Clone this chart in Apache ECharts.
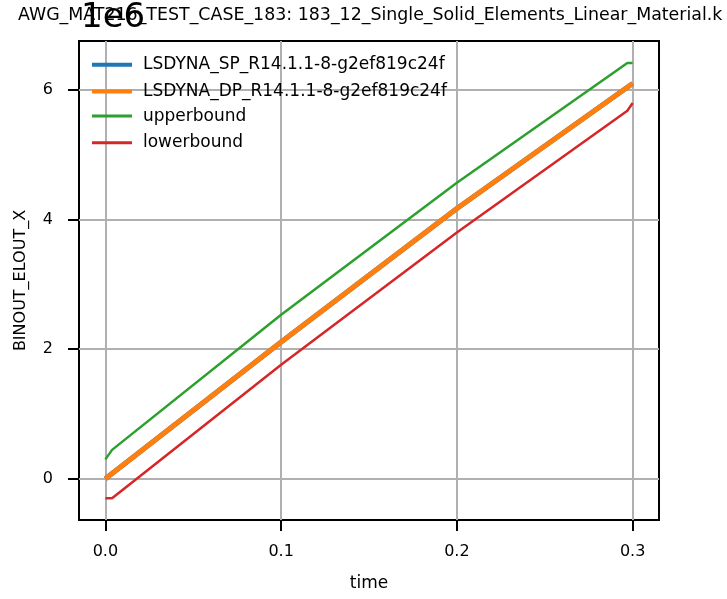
<!DOCTYPE html>
<html>
<head>
<meta charset="utf-8">
<script src="https://cdn.jsdelivr.net/npm/echarts@6/dist/echarts.min.js"></script>
<style>
html,body{margin:0;padding:0;background:#fff;}
#chart{width:727px;height:599px;}
</style>
</head>
<body>
<div id="chart"></div>
<script>
// ---- data ----
const titleText = 'AWG_MAT216_TEST_CASE_183: 183_12_Single_Solid_Elements_Linear_Material.k';
const xLabel = 'time';
const yLabel = 'BINOUT_ELOUT_X';
const seriesNames = ['LSDYNA_SP_R14.1.1-8-g2ef819c24f', 'LSDYNA_DP_R14.1.1-8-g2ef819c24f', 'upperbound', 'lowerbound'];
const xTicks = [0, 0.1, 0.2, 0.3];
const yTicks = [0, 2e6, 4e6, 6e6];
const mainTime = [0, 0.1, 0.2, 0.3];
const spValues = [0, 2.11e6, 4.17e6, 6.1e6];
const dpValues = [0, 2.11e6, 4.17e6, 6.1e6];
const upperTime = [0, 0.0038, 0.1, 0.2, 0.297, 0.3];
const upperValues = [0.3e6, 0.446e6, 2.53e6, 4.57e6, 6.415e6, 6.415e6];
const lowerTime = [0, 0.0038, 0.1, 0.2, 0.297, 0.3];
const lowerValues = [-0.3e6, -0.3e6, 1.76e6, 3.8e6, 5.68e6, 5.8e6];

const pair = (xs, ys) => xs.map((x, i) => [x, ys[i]]);
const FONT = 'DejaVu Sans';

const chart = echarts.init(document.getElementById('chart'), null, {renderer: 'canvas'});
chart.setOption({
  animation: false,
  backgroundColor: '#fff',
  textStyle: {fontFamily: FONT},
  grid: {left: 79, right: 68, top: 41, bottom: 79, show: true, borderColor: '#000', borderWidth: 2, backgroundColor: 'transparent'},
  graphic: [
    {type: 'text', left: 18, top: 7, z: 10, style: {text: titleText, font: '17.4px "DejaVu Sans"', fill: '#000'}},
    {type: 'text', left: 81, top: 1, z: 11, style: {text: '1e6', font: '34px "DejaVu Sans"', fill: '#000'}}
  ],
  legend: [
    {data: seriesNames.slice(0, 2), orient: 'vertical', left: 87, top: 51.2, icon: 'rect', itemWidth: 40, itemHeight: 4, itemGap: 9.7,
     textStyle: {fontFamily: FONT, fontSize: 17, color: '#000', lineHeight: 16, padding: [0, 0, 0, 6]}},
    {data: seriesNames.slice(2, 4), orient: 'vertical', left: 87, top: 102.6, icon: 'rect', itemWidth: 40, itemHeight: 3, itemGap: 9.7,
     textStyle: {fontFamily: FONT, fontSize: 17, color: '#000', lineHeight: 16, padding: [0, 0, 0, 6]}}
  ],
  xAxis: {
    type: 'value', min: -0.015, max: 0.315,
    name: xLabel, nameLocation: 'middle', nameGap: 55,
    nameTextStyle: {fontFamily: FONT, fontSize: 17, color: '#000'},
    axisLine: {show: false, onZero: false},
    axisTick: {show: true, inside: false, length: 11, lineStyle: {color: '#000', width: 2}, customValues: xTicks},
    axisLabel: {fontFamily: FONT, fontSize: 16, color: '#000', margin: 24, customValues: xTicks, formatter: v => v.toFixed(1)},
    splitLine: {show: true, lineStyle: {color: '#b0b0b0', width: 2}}
  },
  yAxis: {
    type: 'value', min: -0.636e6, max: 6.756e6,
    name: yLabel, nameLocation: 'middle', nameGap: 50,
    nameTextStyle: {fontFamily: FONT, fontSize: 16, color: '#000'},
    axisLine: {show: false, onZero: false},
    axisTick: {show: true, inside: false, length: 11, lineStyle: {color: '#000', width: 2}, customValues: yTicks},
    axisLabel: {fontFamily: FONT, fontSize: 16, color: '#000', margin: 26, customValues: yTicks, formatter: v => String(Math.round(v / 1e6))},
    splitLine: {show: true, lineStyle: {color: '#b0b0b0', width: 2}}
  },
  series: [
    {name: seriesNames[0], type: 'line', data: pair(mainTime, spValues), showSymbol: false, symbol: 'none', color: '#1f77b4', lineStyle: {width: 5, color: '#1f77b4'}, z: 2},
    {name: seriesNames[1], type: 'line', data: pair(mainTime, dpValues), showSymbol: false, symbol: 'none', color: '#ff7f0e', lineStyle: {width: 5, color: '#ff7f0e'}, z: 3},
    {name: seriesNames[2], type: 'line', data: pair(upperTime, upperValues), showSymbol: false, symbol: 'none', color: '#2ca02c', lineStyle: {width: 2.5, color: '#2ca02c'}, z: 4},
    {name: seriesNames[3], type: 'line', data: pair(lowerTime, lowerValues), showSymbol: false, symbol: 'none', color: '#d62728', lineStyle: {width: 2.5, color: '#d62728'}, z: 5}
  ]
});
</script>
</body>
</html>
